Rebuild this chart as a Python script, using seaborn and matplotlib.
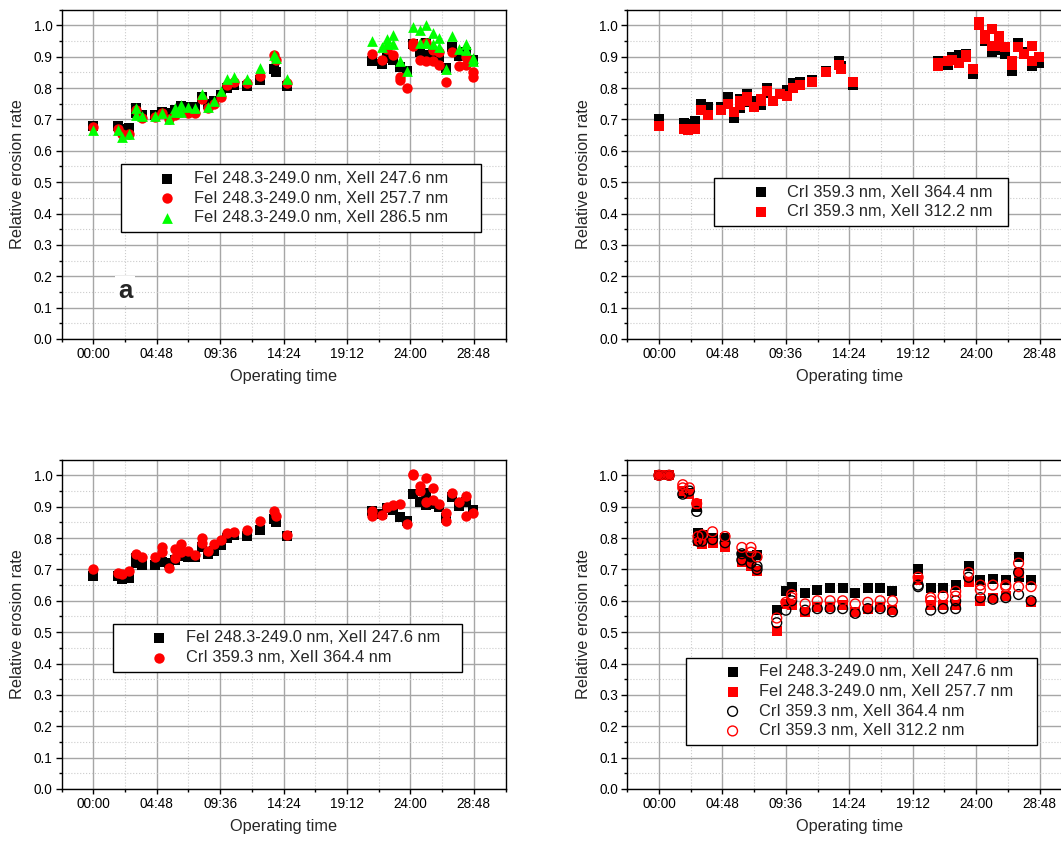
import numpy as np
import matplotlib
matplotlib.use("Agg")
import matplotlib.pyplot as plt
import seaborn as sns
from matplotlib.ticker import MultipleLocator, FuncFormatter

sns.set_style("ticks")
plt.rcParams["font.family"] = ["Liberation Sans", "DejaVu Sans"]

# operating time (hours) of the measurements, panels a-c
t_top = [0, 1.9, 2.2, 2.7, 3.2, 3.7, 4.7, 5.2, 5.7, 6.15, 6.65, 7.2, 7.7, 8.2, 8.65,
         9.15, 9.65, 10.15, 10.65, 11.6, 12.65, 13.65, 13.8, 14.65, 21.1, 21.85, 22.2,
         22.7, 23.2, 23.75, 24.2, 24.7, 25.2, 25.7, 26.2, 26.7, 27.15, 27.65, 28.2, 28.75]

fe_247 = [0.68, 0.68, 0.668, 0.672, 0.72, 0.713, 0.715, 0.725, 0.722, 0.73, 0.743, 0.74,
          0.74, 0.77, 0.748, 0.76, 0.778, 0.80, 0.81, 0.807, 0.825, 0.86, 0.85, 0.807,
          0.885, 0.878, 0.895, 0.89, 0.868, 0.855, 0.94, 0.915, 0.905, 0.91, 0.90, 0.865,
          0.93, 0.902, 0.915, 0.888]
fe_247_xt = [3.2, 25.2]
fe_247_xv = [0.735, 0.945]

fe_257 = [0.675, 0.67, 0.655, 0.655, 0.73, 0.705, 0.708, 0.72, 0.70, 0.715, 0.725, 0.72,
          0.72, 0.765, 0.735, 0.75, 0.77, 0.81, 0.82, 0.815, 0.84, 0.905, 0.89, 0.815,
          0.91, 0.89, 0.925, 0.905, 0.835, 0.80, 0.935, 0.89, 0.885, 0.885, 0.875, 0.82,
          0.915, 0.87, 0.875, 0.85]
fe_257_xt = [23.2, 24.2, 25.2, 25.7, 26.2, 28.2, 28.75]
fe_257_xv = [0.825, 0.945, 0.945, 0.92, 0.915, 0.90, 0.835]

fe_286 = [0.665, 0.665, 0.645, 0.655, 0.735, 0.71, 0.71, 0.72, 0.70, 0.735, 0.745, 0.74,
          0.735, 0.78, 0.74, 0.76, 0.79, 0.83, 0.835, 0.83, 0.865, 0.905, 0.895, 0.83,
          0.95, 0.93, 0.955, 0.97, 0.885, 0.855, 0.995, 0.985, 1.0, 0.975, 0.96, 0.86,
          0.965, 0.925, 0.94, 0.895]
fe_286_xt = [3.2, 6.15, 6.65, 22.2, 22.7, 24.7, 25.2, 25.7, 26.2, 28.2, 28.75]
fe_286_xv = [0.715, 0.725, 0.725, 0.94, 0.94, 0.945, 0.945, 0.94, 0.93, 0.92, 0.885]

cr_364 = [0.70, 0.69, 0.685, 0.695, 0.75, 0.74, 0.74, 0.77, 0.705, 0.765, 0.78, 0.76,
          0.745, 0.80, 0.76, 0.78, 0.795, 0.815, 0.82, 0.825, 0.855, 0.885, 0.87, 0.81,
          0.885, 0.875, 0.90, 0.905, 0.91, 0.845, 1.00, 0.95, 0.915, 0.92, 0.91, 0.855,
          0.945, 0.915, 0.87, 0.88]
cr_364_xt = [5.2, 6.15, 6.65, 8.2, 21.1, 24.2, 24.7, 25.2, 25.7, 26.7, 28.2]
cr_364_xv = [0.755, 0.735, 0.755, 0.785, 0.87, 1.005, 0.965, 0.99, 0.96, 0.88, 0.935]

cr_312 = [0.68, 0.67, 0.665, 0.67, 0.73, 0.715, 0.73, 0.75, 0.725, 0.745, 0.76, 0.74,
          0.76, 0.79, 0.76, 0.78, 0.775, 0.80, 0.81, 0.82, 0.85, 0.875, 0.86, 0.82,
          0.87, 0.885, 0.89, 0.88, 0.90, 0.86, 1.01, 0.97, 0.99, 0.965, 0.93, 0.885,
          0.93, 0.91, 0.935, 0.90]
cr_312_xt = [2.2, 6.15, 6.65, 7.7, 21.1, 23.2, 24.2, 24.7, 25.2, 25.7, 26.7, 28.2]
cr_312_xv = [0.67, 0.76, 0.77, 0.765, 0.88, 0.905, 1.0, 0.955, 0.935, 0.935, 0.875, 0.885]

# panel d, normalised to the start
t_d = [0, 0.77, 1.8, 2.3, 2.85, 2.95, 3.28, 4.05, 5.0, 6.27, 6.96, 7.42, 8.91, 9.6,
       10.04, 11.06, 11.98, 12.95, 13.9, 14.85, 15.8, 16.74, 17.67, 19.61, 20.56, 21.5,
       22.45, 23.43, 24.32, 25.27, 26.24, 27.21, 28.16]
fe_247_d = [1.0, 1.0, 0.945, 0.945, 0.90, 0.815, 0.81, 0.80, 0.80, 0.745, 0.735, 0.745,
            0.57, 0.63, 0.645, 0.625, 0.635, 0.64, 0.64, 0.625, 0.64, 0.64, 0.63, 0.70,
            0.64, 0.64, 0.65, 0.71, 0.665, 0.67, 0.665, 0.74, 0.665]
fe_247_d_xt = [27.21]
fe_247_d_xv = [0.675]
fe_257_d = [1.0, 1.0, 0.95, 0.94, 0.91, 0.79, 0.78, 0.785, 0.77, 0.725, 0.71, 0.695,
            0.505, 0.59, 0.585, 0.565, 0.58, 0.58, 0.585, 0.565, 0.575, 0.58, 0.57, 0.665,
            0.585, 0.585, 0.585, 0.66, 0.60, 0.61, 0.615, 0.69, 0.595]
cr_364_d = [1.0, 1.0, 0.94, 0.95, 0.885, 0.79, 0.79, 0.795, 0.785, 0.73, 0.72, 0.70,
            0.53, 0.57, 0.60, 0.57, 0.575, 0.575, 0.575, 0.56, 0.575, 0.575, 0.565, 0.645,
            0.57, 0.575, 0.575, 0.675, 0.61, 0.605, 0.61, 0.69, 0.60]
cr_364_d_xt = [6.27, 6.96, 7.42, 19.61, 22.45, 27.21]
cr_364_d_xv = [0.75, 0.74, 0.71, 0.65, 0.60, 0.62]
cr_312_d = [1.0, 1.0, 0.97, 0.96, 0.91, 0.805, 0.81, 0.82, 0.805, 0.77, 0.77, 0.74,
            0.545, 0.595, 0.62, 0.59, 0.60, 0.60, 0.60, 0.59, 0.595, 0.60, 0.60, 0.675,
            0.60, 0.615, 0.63, 0.69, 0.65, 0.65, 0.645, 0.72, 0.645]
cr_312_d_xt = [1.8, 6.96, 10.04, 20.56, 22.45, 24.32, 26.24, 27.21]
cr_312_d_xv = [0.96, 0.755, 0.61, 0.61, 0.615, 0.635, 0.65, 0.645]

lab_fe247 = "FeI 248.3-249.0 nm, XeII 247.6 nm"
lab_fe257 = "FeI 248.3-249.0 nm, XeII 257.7 nm"
lab_fe286 = "FeI 248.3-249.0 nm, XeII 286.5 nm"
lab_cr364 = "CrI 359.3 nm, XeII 364.4 nm"
lab_cr312 = "CrI 359.3 nm, XeII 312.2 nm"


def hhmm(h, pos):
    m = int(round(h * 60))
    return f"{m // 60:02d}:{m % 60:02d}"


def style_axis(ax):
    ax.set_xlim(-2.4, 31.2)
    ax.set_ylim(0, 1.05)
    ax.xaxis.set_major_locator(MultipleLocator(4.8))
    ax.xaxis.set_minor_locator(MultipleLocator(2.4))
    ax.xaxis.set_major_formatter(FuncFormatter(hhmm))
    ax.yaxis.set_major_locator(MultipleLocator(0.1))
    ax.yaxis.set_minor_locator(MultipleLocator(0.05))
    ax.yaxis.set_major_formatter(FuncFormatter(lambda v, p: f"{v:.1f}"))
    ax.set_axisbelow(True)
    ax.grid(which="major", color="#a6a6a6", lw=1.0, ls="-")
    ax.grid(which="minor", color="#cccccc", lw=0.8, ls=":")
    ax.tick_params(which="both", direction="out", width=1, colors="black",
                   labelsize=9.8, pad=2)
    ax.tick_params(axis="x", which="major", length=3.6)
    ax.tick_params(axis="y", which="major", length=4.5)
    ax.tick_params(which="minor", length=2.2)
    for s in ax.spines.values():
        s.set_visible(True)
        s.set_color("black")
        s.set_linewidth(1.0)
    ax.set_xlabel("Operating time", fontsize=11.7, labelpad=6)
    ax.set_ylabel("Relative erosion rate", fontsize=11.7, labelpad=6)


def pts(ax, t, v, xt, xv, label, **kw):
    sns.scatterplot(x=list(t) + list(xt), y=list(v) + list(xv), ax=ax, label=label,
                    linewidth=0, **kw)


def legend(ax, x0, x1, cy):
    # box spans x0..x1 of the axes, text left aligned inside
    ax.legend(loc="center", bbox_to_anchor=(x0, cy - 0.05, x1 - x0, 0.1), mode="expand",
              fontsize=11.8, frameon=True, fancybox=False, framealpha=1,
              edgecolor="black", borderpad=0.4, borderaxespad=0,
              labelspacing=0.28, handlelength=4.9, handletextpad=-0.85,
              scatterpoints=1).get_frame().set_linewidth(1.0)


fig = plt.figure(figsize=(10.61, 8.42), dpi=100)
ax_a = fig.add_axes([0.0580, 0.5974, 0.4185, 0.3911])
ax_b = fig.add_axes([0.5912, 0.5974, 0.4185, 0.3911])
ax_c = fig.add_axes([0.0580, 0.0630, 0.4185, 0.3911])
ax_d = fig.add_axes([0.5912, 0.0630, 0.4185, 0.3911])

# a
pts(ax_a, t_top, fe_247, fe_247_xt, fe_247_xv, lab_fe247, marker="s", color="black", s=42)
pts(ax_a, t_top, fe_257, fe_257_xt, fe_257_xv, lab_fe257, marker="o", color="red", s=56)
pts(ax_a, t_top, fe_286, fe_286_xt, fe_286_xv, lab_fe286, marker="^", color="#00ff00", s=60)
style_axis(ax_a)
legend(ax_a, 0.133, 0.945, 0.428)
ax_a.text(2.4, 0.152, "a", fontsize=18.5, fontweight="bold", ha="center", va="center",
          bbox=dict(facecolor="white", edgecolor="none", pad=2))

# b
pts(ax_b, t_top, cr_364, cr_364_xt, cr_364_xv, lab_cr364, marker="s", color="black", s=46)
pts(ax_b, t_top, cr_312, cr_312_xt, cr_312_xv, lab_cr312, marker="s", color="red", s=46)
style_axis(ax_b)
legend(ax_b, 0.195, 0.857, 0.416)

# c
pts(ax_c, t_top, fe_247, fe_247_xt, fe_247_xv, lab_fe247, marker="s", color="black", s=42)
pts(ax_c, t_top, cr_364, cr_364_xt, cr_364_xv, lab_cr364, marker="o", color="red", s=56)
style_axis(ax_c)
legend(ax_c, 0.115, 0.903, 0.429)

# d
pts(ax_d, t_d, fe_247_d, fe_247_d_xt, fe_247_d_xv, lab_fe247, marker="s", color="black", s=46)
pts(ax_d, t_d, fe_257_d, [], [], lab_fe257, marker="s", color="red", s=46)
sns.scatterplot(x=t_d + cr_364_d_xt, y=cr_364_d + cr_364_d_xv, ax=ax_d, label=lab_cr364,
                marker="o", color="black", facecolor="none", edgecolor="black", linewidth=1.0, s=50)
sns.scatterplot(x=t_d + cr_312_d_xt, y=cr_312_d + cr_312_d_xv, ax=ax_d, label=lab_cr312,
                marker="o", color="red", facecolor="none", edgecolor="red", linewidth=1.0, s=50)
style_axis(ax_d)
legend(ax_d, 0.132, 0.922, 0.266)

fig.savefig("out.png", dpi=100)
